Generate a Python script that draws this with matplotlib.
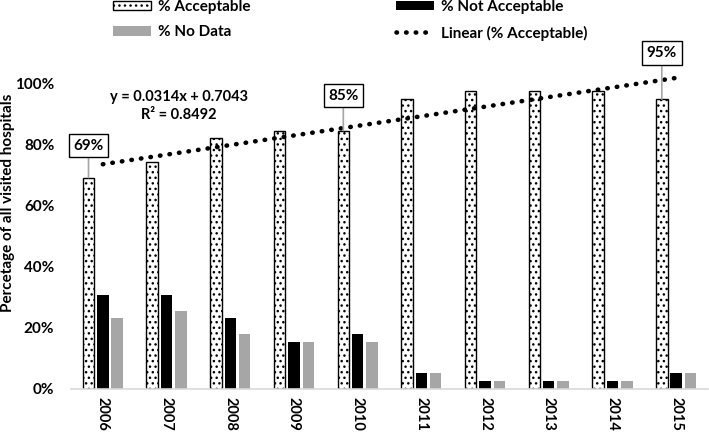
import numpy as np
import matplotlib
matplotlib.use("Agg")
import matplotlib.pyplot as plt
from matplotlib.ticker import PercentFormatter

years = ["2006", "2007", "2008", "2009", "2010", "2011", "2012", "2013", "2014", "2015"]
acceptable = [0.692, 0.744, 0.821, 0.846, 0.846, 0.949, 0.974, 0.974, 0.974, 0.949]
not_acceptable = [0.308, 0.308, 0.231, 0.154, 0.179, 0.051, 0.026, 0.026, 0.026, 0.051]
no_data = [0.231, 0.256, 0.179, 0.154, 0.154, 0.051, 0.026, 0.026, 0.026, 0.051]

# trendline from the chart label
slope, intercept = 0.0314, 0.7043
r2 = 0.8492

# labelled bars: index -> text
callouts = {0: "69%", 4: "85%", 9: "95%"}

plt.rcParams['font.family'] = ['Lato', 'DejaVu Sans']
plt.rcParams['font.weight'] = 'bold'
plt.rcParams['hatch.linewidth'] = 1.0

W, H = 709, 433
fig = plt.figure(figsize=(W / 100, H / 100), dpi=100)
ax = fig.add_axes([71 / W, 44 / H, 637 / W, 305.5 / H])

x = np.arange(1, len(years) + 1)
w = 0.18
off = 0.225

b_acc = ax.bar(x - off, acceptable, w, color='white', edgecolor='black',
               linewidth=1.0, hatch='...', label='% Acceptable')
b_not = ax.bar(x, not_acceptable, w, color='black', label='% Not Acceptable')
b_nd = ax.bar(x + off, no_data, w, color='#a6a6a6', label='% No Data')

tx = np.array([1, len(years)])
trend, = ax.plot(tx, slope * tx + intercept, color='black', lw=3.3,
                 linestyle=(0, (0.1, 2.0)), dash_capstyle='round',
                 clip_on=False, label='Linear (% Acceptable)')

offsets = {0: 32, 4: 35, 9: 46}
for i, txt in callouts.items():
    ax.annotate(txt, xy=(x[i] - off, acceptable[i]), xytext=(0, offsets[i]),
                textcoords='offset pixels', ha='center', va='center',
                fontsize=11, fontweight='bold', annotation_clip=False,
                bbox=dict(boxstyle='square,pad=0.3', fc='white', ec='black', lw=1.0),
                arrowprops=dict(arrowstyle='-', color='#a6a6a6', lw=1.2,
                                shrinkA=0, shrinkB=0))

# equation text, placed in figure pixels (from top)
fig.text(179 / W, 1 - 97 / H, f"y = {slope}x + {intercept}", fontsize=10.5,
         fontweight='bold', ha='center', va='center')
fig.text(179 / W, 1 - 115 / H, f"R² = {r2}", fontsize=10.5,
         fontweight='bold', ha='center', va='center')

ax.set_xlim(0.5, len(years) + 0.5)
ax.set_ylim(0, 1.0)
ax.set_yticks(np.arange(0, 1.01, 0.2))
ax.yaxis.set_major_formatter(PercentFormatter(1.0, decimals=0))
ax.set_xticks(x)
ax.set_xticklabels(years, rotation=-90, fontsize=10.5, fontweight='bold')
ax.tick_params(axis='both', length=0, labelsize=11)
ax.tick_params(axis='x', pad=6, labelsize=10.5)
ax.tick_params(axis='y', pad=12)
for s in ['top', 'right', 'left']:
    ax.spines[s].set_visible(False)
ax.spines['bottom'].set_color('#d9d9d9')
ax.spines['bottom'].set_linewidth(1.2)

ax.set_ylabel("Percetage of all visited hospitals", fontsize=11, fontweight='bold')
ax.yaxis.set_label_coords(-0.088, 0.61)

handles = [b_acc, b_nd, b_not, trend]
labels = ['% Acceptable', '% No Data', '% Not Acceptable', 'Linear (% Acceptable)']
fig.legend(handles, labels, ncol=2, loc='upper left',
           bbox_to_anchor=(113 / W, 1.0), frameon=False, fontsize=11,
           handlelength=2.5, handleheight=0.6, handletextpad=0.45,
           columnspacing=9.5, labelspacing=0.75, borderpad=0, borderaxespad=0)

fig.savefig("out.png", dpi=100)
